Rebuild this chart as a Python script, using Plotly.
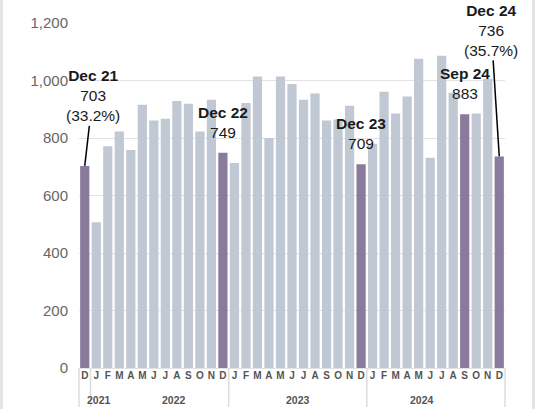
import plotly.graph_objects as go

# ---- data ----
years = ["2021"] + ["2022"] * 12 + ["2023"] * 12 + ["2024"] * 12
month_letters = ["J", "F", "M", "A", "M", "J", "J", "A", "S", "O", "N", "D"]
months = ["D"] + month_letters * 3
month_nums = [12] + list(range(1, 13)) * 3
values = [703,
          507, 771, 823, 758, 916, 861, 867, 929, 919, 823, 933, 749,
          713, 922, 1014, 800, 1014, 988, 933, 955, 861, 864, 912, 709,
          780, 961, 885, 944, 1076, 731, 1086, 957, 883, 885, 1005, 736]
year_labels = ["2021", "2022", "2023", "2024"]
highlight_idx = [0, 12, 24, 33, 36]
label_text = {
    0: "<b>Dec 21</b><br>703<br>(33.2%)",
    12: "<b>Dec 22</b><br>749",
    24: "<b>Dec 23</b><br>709",
    33: "<b>Sep 24</b><br>883",
    36: "<b>Dec 24</b><br>736<br>(35.7%)",
}

keys = [f"{y}-{m:02d}" for y, m in zip(years, month_nums)]

PURPLE = "#8A7A9C"
GREY = "#C0C8D3"
colors = [PURPLE if i in highlight_idx else GREY for i in range(len(values))]

W, H = 535, 409
ML, MR, MT, MB = 79, 30, 23, 41
pw = W - ML - MR
ph = H - MT - MB
n = len(values)

fig = go.Figure(go.Bar(
    x=keys, y=values, marker_color=colors, marker_line_width=0,
))

font_fam = "Liberation Sans, Arial, sans-serif"
for i, txt in label_text.items():
    if i in (0, 36):
        fig.add_annotation(
            x=keys[i], y=values[i], xref="x", yref="y", text=txt,
            showarrow=True, arrowhead=0, arrowwidth=1.5, arrowcolor="#000",
            ax=8 if i == 0 else -8, ay=-70 if i == 0 else -126,
            font=dict(family=font_fam, size=15.5, color="#1a1a1a"),
        )
    else:
        fig.add_annotation(
            x=keys[i], y=values[i], xref="x", yref="y", text=txt,
            showarrow=False, yanchor="bottom", yshift=10,
            font=dict(family=font_fam, size=15.5, color="#1a1a1a"),
        )

# year group labels and dividers
bounds = [0]
for i in range(1, n):
    if years[i] != years[i - 1]:
        bounds.append(i)
bounds.append(n)
for gi, yl in enumerate(year_labels):
    a, b = bounds[gi], bounds[gi + 1]
    fig.add_annotation(
        x=(a + b) / 2 / n, y=-(400 - (MT + ph)) / ph, xref="paper", yref="paper",
        text=f"<b>{yl}</b>", showarrow=False, yanchor="middle",
        font=dict(family=font_fam, size=10.5, color="#555555"),
    )
for bd in bounds:
    fig.add_shape(type="line", xref="paper", yref="paper",
                  x0=bd / n, x1=bd / n, y0=0, y1=-(407 - (MT + ph)) / ph,
                  line=dict(color="#DCDCDC", width=1.5))

# outer frame side lines
for px in (1.5, 533.5):
    xp = (px - ML) / pw
    fig.add_shape(type="line", xref="paper", yref="paper",
                  x0=xp, x1=xp, y0=-MB / ph, y1=1 + MT / ph,
                  line=dict(color="#E4E4E4", width=3))

fig.update_layout(
    width=W, height=H,
    margin=dict(l=ML, r=MR, t=MT, b=MB, autoexpand=False),
    paper_bgcolor="white", plot_bgcolor="white",
    bargap=0.2, showlegend=False,
    font=dict(family=font_fam),
)
fig.update_xaxes(
    type="category", range=[-0.5, n - 0.5],
    tickmode="array", tickvals=keys, ticktext=months, tickangle=0,
    tickfont=dict(family=font_fam, size=10, color="#555555", weight="bold"),
    showgrid=False, ticks="", showline=False, automargin=False,
)
fig.update_yaxes(
    range=[0, 1200], dtick=200, tickformat=",",
    tickfont=dict(family=font_fam, size=15, color="#666666"),
    showgrid=True, gridcolor="#E2E2E2", gridwidth=1,
    zeroline=True, zerolinecolor="#E2E2E2", zerolinewidth=1,
    ticklabelstandoff=10, showline=False, automargin=False,
)

fig.write_html("out.html", config={"displayModeBar": False},
               post_script="document.body.style.margin='0';")
